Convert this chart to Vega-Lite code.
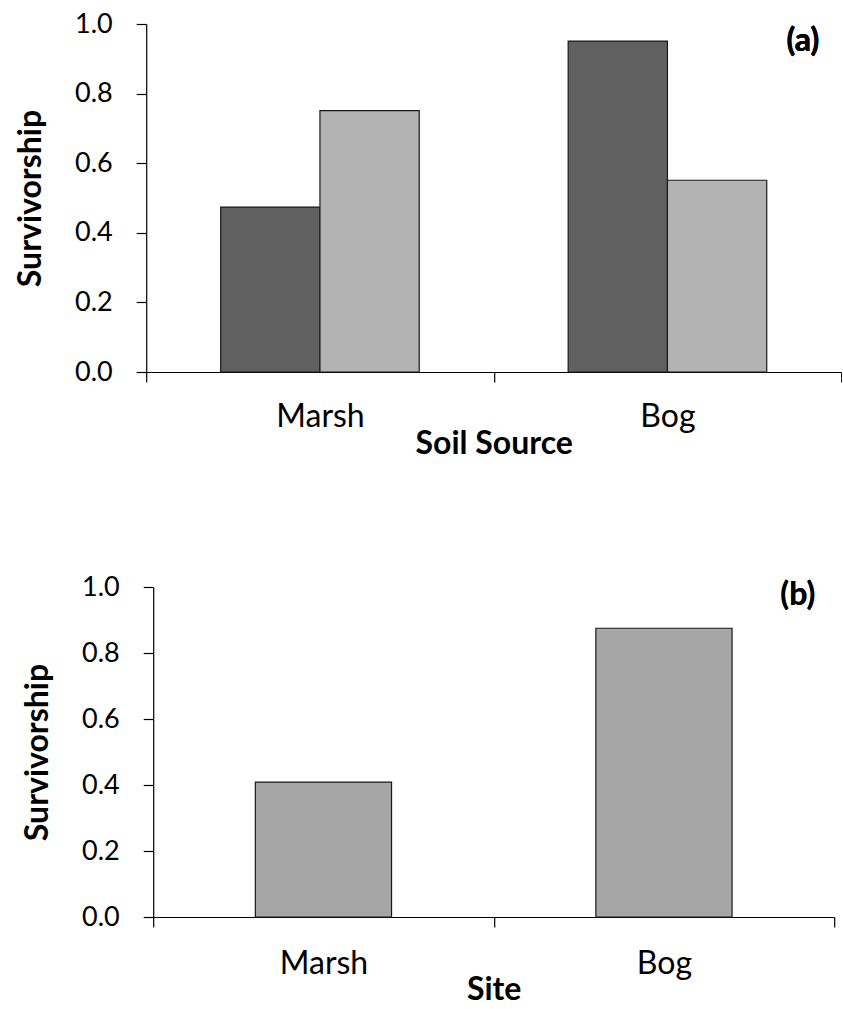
{
  "$schema": "https://vega.github.io/schema/vega-lite/v6.json",
  "padding": {"left": 14, "top": 10, "right": 0, "bottom": 0},
  "config": {
    "view": {"stroke": null},
    "font": "Lato",
    "axis": {
      "domainColor": "#000", "tickColor": "#000", "labelColor": "#000", "titleColor": "#000",
      "labelFont": "Lato", "titleFont": "Lato", "labelFontSize": 27, "titleFontSize": 32,
      "titleFontWeight": "bold", "tickSize": 10, "grid": false, "domainWidth": 1.2, "tickWidth": 1.2
    },
    "axisX": {"labelFontSize": 32},
    "concat": {"spacing": 114}
  },
  "center": true,
  "vconcat": [
    {
      "width": 695, "height": 348,
      "data": {"values": [
        {"source": "Marsh", "group": "A", "survivorship": 0.474},
        {"source": "Marsh", "group": "B", "survivorship": 0.751},
        {"source": "Bog", "group": "A", "survivorship": 0.951},
        {"source": "Bog", "group": "B", "survivorship": 0.551}
      ]},
      "layer": [
        {
          "mark": {"type": "bar", "stroke": "#1a1a1a", "strokeWidth": 1.2},
          "encoding": {
            "x": {"field": "source", "type": "nominal", "sort": ["Marsh", "Bog"],
                  "scale": {"paddingInner": 0, "paddingOuter": 0},
                  "axis": {"title": "Soil Source", "labelAngle": 0, "tickBand": "extent", "labelPadding": 19, "titlePadding": -4}},
            "xOffset": {"field": "group", "type": "nominal", "scale": {"paddingInner": 0, "paddingOuter": 0.75}},
            "y": {"field": "survivorship", "type": "quantitative", "scale": {"domain": [0, 1]},
                  "axis": {"values": [0, 0.2, 0.4, 0.6, 0.8, 1.0], "format": ".1f", "title": "Survivorship", "labelPadding": 24, "titlePadding": 27}},
            "color": {"field": "group", "type": "nominal", "scale": {"range": ["#606060", "#b3b3b3"]}, "legend": null}
          }
        },
        {
          "mark": {"type": "text", "text": "(a)", "font": "Lato", "fontSize": 32, "fontWeight": "bold", "color": "#000", "align": "right", "baseline": "top", "dx": -22, "dy": 2},
          "encoding": {
            "x": {"datum": "Bog", "bandPosition": 1},
            "y": {"datum": 1}
          }
        }
      ]
    },
    {
      "width": 681, "height": 330,
      "data": {"values": [
        {"site": "Marsh", "survivorship": 0.409},
        {"site": "Bog", "survivorship": 0.875}
      ]},
      "layer": [
        {
          "mark": {"type": "bar", "fill": "#a6a6a6", "stroke": "#1a1a1a", "strokeWidth": 1.2, "width": {"band": 0.4}},
          "encoding": {
            "x": {"field": "site", "type": "nominal", "sort": ["Marsh", "Bog"],
                  "scale": {"paddingInner": 0, "paddingOuter": 0},
                  "axis": {"title": "Site", "labelAngle": 0, "tickBand": "extent", "labelPadding": 21, "titlePadding": -5}},
            "y": {"field": "survivorship", "type": "quantitative", "scale": {"domain": [0, 1]},
                  "axis": {"values": [0, 0.2, 0.4, 0.6, 0.8, 1.0], "format": ".1f", "title": "Survivorship", "labelPadding": 24, "titlePadding": 27}}
          }
        },
        {
          "mark": {"type": "text", "text": "(b)", "font": "Lato", "fontSize": 32, "fontWeight": "bold", "color": "#000", "align": "right", "baseline": "top", "dx": -19, "dy": -7},
          "encoding": {
            "x": {"datum": "Bog", "bandPosition": 1},
            "y": {"datum": 1}
          }
        }
      ]
    }
  ]
}
